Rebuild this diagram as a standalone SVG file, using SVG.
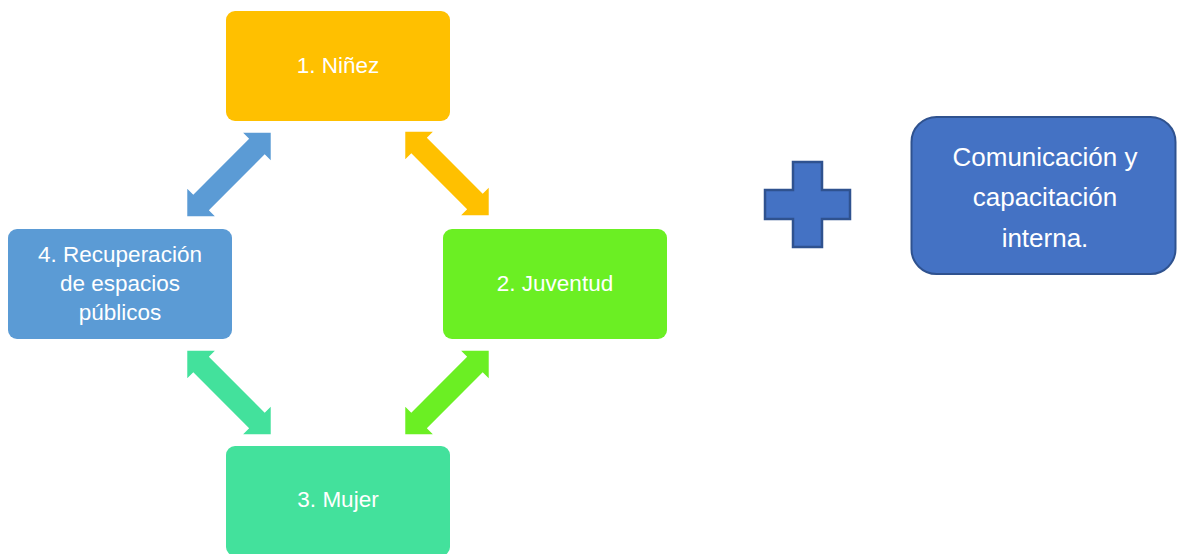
<svg xmlns="http://www.w3.org/2000/svg" width="1177" height="554" viewBox="0 0 1177 554">
<style>
.t{font-family:"Liberation Sans",Arial,sans-serif;fill:#fff;text-anchor:middle;font-size:22.5px}
.t2{font-family:"Liberation Sans",Arial,sans-serif;fill:#fff;text-anchor:middle;font-size:26px}
</style>
<defs>
<polygon id="dbl" points="-59,0 -39.5,-19.5 -39.5,-11 39.5,-11 39.5,-19.5 59,0 39.5,19.5 39.5,11 -39.5,11 -39.5,19.5"/>
</defs>
<rect width="1177" height="554" fill="#fff"/>
<g id="connectors">
<use href="#dbl" fill="#5B9BD5" transform="translate(229,174.5) rotate(-45)"/>
<use href="#dbl" fill="#FFC000" transform="translate(447,173.5) rotate(45)"/>
<use href="#dbl" fill="#43E19C" transform="translate(229,392.5) rotate(45)"/>
<use href="#dbl" fill="#6BEF23" transform="translate(447,392.5) rotate(-45)"/>
</g>
<g id="n1">
<rect x="226" y="11" width="224" height="110" rx="9" fill="#FFC000"/>
<text class="t" x="338" y="73">1. Niñez</text>
</g>
<g id="n2">
<rect x="443" y="229" width="224" height="110" rx="9" fill="#6BEF23"/>
<text class="t" x="555" y="291">2. Juventud</text>
</g>
<g id="n3">
<rect x="226" y="446" width="224" height="110" rx="9" fill="#43E19C"/>
<text class="t" x="338" y="507">3. Mujer</text>
</g>
<g id="n4">
<rect x="8" y="229" width="224" height="110" rx="9" fill="#5B9BD5"/>
<text class="t" x="120" y="262">4. Recuperación</text>
<text class="t" x="120" y="291">de espacios</text>
<text class="t" x="120" y="320">públicos</text>
</g>
<g id="plus">
<polygon points="793,162 822,162 822,190 850,190 850,219 822,219 822,247 793,247 793,219 765,219 765,190 793,190" fill="#4472C4" stroke="#2F528F" stroke-width="2.5"/>
</g>
<g id="n5">
<rect x="911.5" y="117" width="264" height="157" rx="25" fill="#4472C4" stroke="#2F528F" stroke-width="2"/>
<text class="t2" x="1045" y="166">Comunicación y</text>
<text class="t2" x="1045" y="206">capacitación</text>
<text class="t2" x="1045" y="247">interna.</text>
</g>
</svg>
